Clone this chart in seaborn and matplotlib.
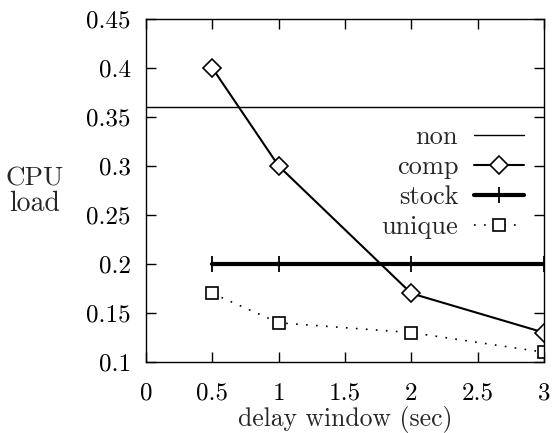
import matplotlib
matplotlib.use("Agg")
import matplotlib.pyplot as plt
import seaborn as sns
import pandas as pd

x_non = [0.0, 3.0]
y_non = [0.36, 0.36]
x_comp = [0.5, 1.0, 2.0, 3.0]
y_comp = [0.40, 0.30, 0.17, 0.13]
x_stock = [0.5, 1.0, 2.0, 3.0]
y_stock = [0.20, 0.20, 0.20, 0.20]
x_unique = [0.5, 1.0, 2.0, 3.0]
y_unique = [0.17, 0.14, 0.13, 0.11]
xticks = [0, 0.5, 1, 1.5, 2, 2.5, 3]
yticks = [0.1, 0.15, 0.2, 0.25, 0.3, 0.35, 0.4, 0.45]

sns.set_style("ticks")
plt.rcParams['font.family'] = ['cmr10', 'DejaVu Serif']
plt.rcParams['mathtext.fontset'] = 'cm'
plt.rcParams['axes.formatter.use_mathtext'] = True

L, R, T, B = 146, 544, 19, 362
fig = plt.figure(figsize=(5.52, 4.33), dpi=100)
ax = fig.add_axes([L/552, 1-B/433, (R-L)/552, (B-T)/433])

sns.lineplot(x=x_non, y=y_non, ax=ax, color='black', lw=1.0, label='non')
sns.lineplot(x=x_comp, y=y_comp, ax=ax, color='black', lw=1.5, marker='D', ms=9,
             mfc='white', mec='black', mew=1.2, label='comp')
sns.lineplot(x=x_stock, y=y_stock, ax=ax, color='black', lw=3, marker='|', ms=11,
             mec='black', mew=1.3, label='stock')
sns.lineplot(x=x_unique, y=y_unique, ax=ax, color='black', lw=1.2, ls=(0, (1, 5)),
             marker='s', ms=8.5, mfc='white', mec='black', mew=1.2, label='unique')

ax.set_xlim(0, 3)
ax.set_ylim(0.1, 0.45)
ax.set_xticks(xticks)
ax.set_xticklabels(['0', '0.5', '1', '1.5', '2', '2.5', '3'])
ax.set_yticks(yticks)
ax.set_yticklabels(['0.1', '0.15', '0.2', '0.25', '0.3', '0.35', '0.4', '0.45'])
ax.tick_params(direction='in', length=7, width=1, top=True, right=True,
               labelsize=18, colors='black')
ax.tick_params(axis='x', pad=15)
ax.tick_params(axis='y', pad=11)
for s in ax.spines.values():
    s.set_linewidth(1.0)
    s.set_color('black')
ax.set_xlabel('delay window (sec)', fontsize=18.5, labelpad=1)
ax.set_ylabel('')
fig.text(35/552, 1-179/433, 'CPU', fontsize=19.5, ha='center', va='center')
fig.text(35/552, 1-204/433, 'load', fontsize=20, ha='center', va='center')

leg = ax.legend(loc='upper right', bbox_to_anchor=(0.95, 0.69), frameon=False,
                markerfirst=False, fontsize=19, handlelength=1.9, labelspacing=0.24,
                handletextpad=0.6, borderaxespad=0, borderpad=0)

fig.savefig('out.png', dpi=100)
